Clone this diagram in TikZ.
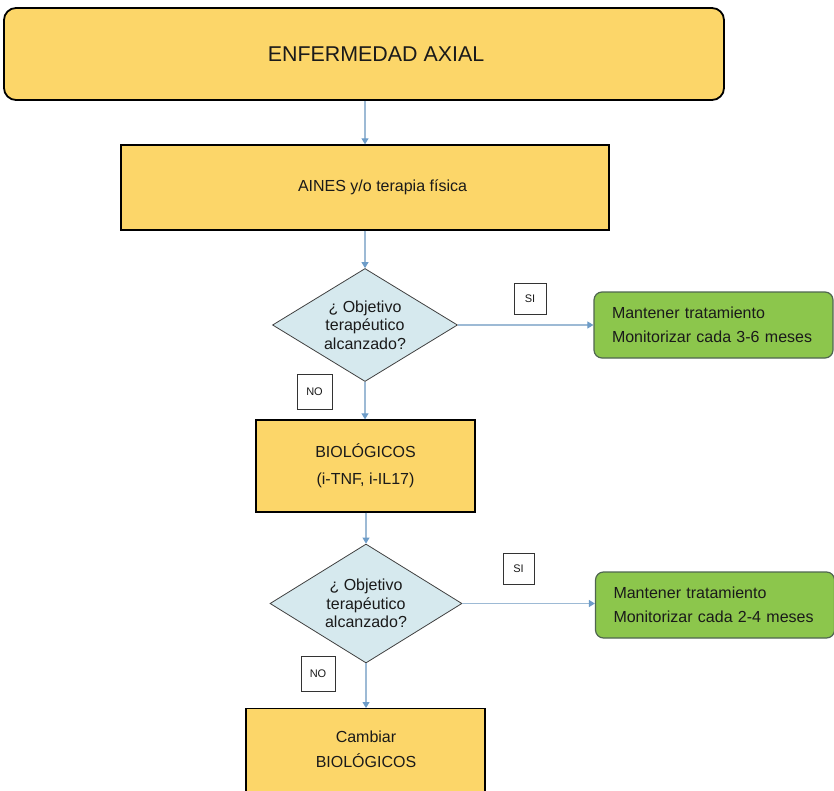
\documentclass[tikz,border=0pt]{standalone}
\usepackage{fontspec}
\setmainfont{Liberation Sans}
\usetikzlibrary{shapes.geometric,arrows.meta}
\definecolor{yel}{HTML}{FCD669}
\definecolor{grn}{HTML}{8CC64C}
\definecolor{grnb}{HTML}{4F6650}
\definecolor{dia}{HTML}{D6E9EE}
\definecolor{arl}{HTML}{9DBAD5}
\definecolor{arh}{HTML}{6D9CC8}
\definecolor{txc}{HTML}{1A1A1A}
\begin{document}
\begin{tikzpicture}[x=1pt,y=-1pt,
  txt/.style={text=txc,font=\fontsize{16}{18.5}\selectfont},
  ybox/.style={draw=black,line width=1.3pt,fill=yel,inner sep=0pt,txt},
  gbox/.style={draw=grnb,line width=1.2pt,fill=grn,rounded corners=8pt,inner xsep=18pt,inner ysep=0pt,
     text width=203pt,minimum width=239pt,minimum height=66pt,align=left,text=txc,font=\fontsize{16}{24}\selectfont},
  dec/.style={diamond,draw=black!75,line width=0.8pt,fill=dia,inner sep=0pt,aspect=1.64,align=center,txt},
  lab/.style={draw=black!80,line width=0.7pt,fill=white,inner sep=0pt,text=txc,font=\fontsize{11}{13}\selectfont},
  conn/.style={draw=arl,line width=1.1pt,-{Triangle[width=7pt,length=6pt,color=arh,fill=arh]}}]
\useasboundingbox (0,0) rectangle (834,791);
\clip (0,0) rectangle (834,791);

\node (top) [ybox,line width=1.8pt,rounded corners=12pt,minimum width=720pt,minimum height=92pt,
  font=\fontsize{21.4}{24}\selectfont] at (364,54) {\hspace*{24pt}ENFERMEDAD AXIAL};
\node (aines) [ybox,minimum width=488pt,minimum height=85pt] at (365,187.5) {\hspace*{35pt}AINES y/o terapia física};
\node (d1) [dec,minimum width=185pt,minimum height=113pt] at (365,325) {¿ Objetivo\\terapéutico\\alcanzado?};
\node (si1) [lab,minimum width=32pt,minimum height=31pt] at (530,298.5) {SI};
\node (g1) [gbox] at (713.5,325) {Mantener tratamiento\\Monitorizar cada 3-6 meses};
\node (no1) [lab,minimum width=35pt,minimum height=35pt] at (314.5,391.5) {NO};
\node (bio) [ybox,minimum width=219pt,minimum height=92pt,align=center,font=\fontsize{16}{27}\selectfont] at (365.5,466) {BIOLÓGICOS\\(i-TNF, i-IL17)};
\node (d2) [dec,minimum width=192pt,minimum height=119pt] at (366,603.5) {¿ Objetivo\\terapéutico\\alcanzado?};
\node (si2) [lab,minimum width=31pt,minimum height=31pt] at (518.5,568.5) {SI};
\node (g2) [gbox] at (715,605) {Mantener tratamiento\\Monitorizar cada 2-4 meses};
\node (no2) [lab,minimum width=34pt,minimum height=35pt] at (318,673.5) {NO};
\node (camb) [ybox,minimum width=239pt,minimum height=100pt,anchor=north] at (365.5,708) {};
\node (cambt) [txt,align=center,font=\fontsize{16}{25}\selectfont] at (366,749.5) {Cambiar\\BIOLÓGICOS};

\draw[conn] (top.south -| aines.north) -- (aines.north);
\draw[conn] (aines.south) -- (d1.north);
\draw[conn] (d1.east) -- (d1.east -| g1.west);
\draw[conn] (d1.south) -- (d1.south |- bio.north);
\draw[conn] (bio.south -| d2.north) -- (d2.north);
\draw[conn] (d2.east) -- (d2.east -| g2.west);
\draw[conn] (d2.south) -- (d2.south |- camb.north);
\end{tikzpicture}
\end{document}
